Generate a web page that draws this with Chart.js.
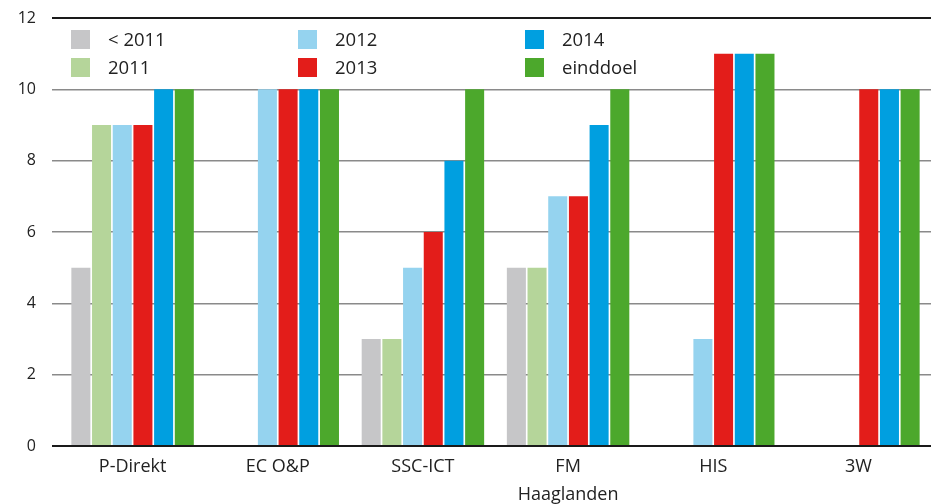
<!DOCTYPE html>
<html>
<head>
<meta charset="utf-8">
<script src="https://cdn.jsdelivr.net/npm/chart.js@4/dist/chart.umd.min.js"></script>
<style>
html,body{margin:0;padding:0;background:#fff;}
#wrap{width:931px;height:504px;position:relative;}
</style>
</head>
<body>
<div id="wrap"><canvas id="c" width="931" height="504"></canvas></div>
<script>
const categories = ['P-Direkt', 'EC O&P', 'SSC-ICT', ['FM', 'Haaglanden'], 'HIS', '3W'];
const seriesNames = ['< 2011', '2011', '2012', '2013', '2014', 'einddoel'];
const before2011 = [5, null, 3, 5, null, null];
const y2011 = [9, null, 3, 5, null, null];
const y2012 = [9, 10, 5, 7, 3, null];
const y2013 = [9, 10, 6, 7, 11, 10];
const y2014 = [10, 10, 8, 9, 11, 10];
const einddoel = [10, 10, 10, 10, 11, 10];
const yTicks = [0, 2, 4, 6, 8, 10, 12];

const colors = ['#c6c6c8', '#b5d59a', '#95d3ef', '#e31d1a', '#009fe0', '#4ca82c'];
const seriesValues = [before2011, y2011, y2012, y2013, y2014, einddoel];

const FONT = '"Open Sans", sans-serif';
const TEXT = '#222222';

const legendPlugin = {
  id: 'gridLegend',
  afterDraw(chart) {
    const ctx = chart.ctx;
    const colX = [71, 298, 525];
    const rowY = [30, 58];
    const box = 19;
    ctx.save();
    ctx.font = '18.5px ' + FONT;
    ctx.textBaseline = 'middle';
    ctx.textAlign = 'left';
    chart.data.datasets.forEach((ds, i) => {
      const col = Math.floor(i / 2), row = i % 2;
      const x = colX[col], y = rowY[row];
      ctx.fillStyle = ds.backgroundColor;
      ctx.fillRect(x, y, box, box);
      ctx.fillStyle = TEXT;
      ctx.fillText(ds.label, x + 37, y + box / 2 + 1);
    });
    ctx.restore();
  }
};

new Chart(document.getElementById('c'), {
  type: 'bar',
  data: {
    labels: categories,
    datasets: seriesNames.map((n, i) => ({
      label: n,
      data: seriesValues[i],
      backgroundColor: colors[i],
      borderWidth: 0,
      barPercentage: 0.92,
      categoryPercentage: 0.855
    }))
  },
  options: {
    responsive: false,
    animation: false,
    layout: { padding: { top: 18, right: 0, left: 0, bottom: 0 } },
    plugins: { legend: { display: false }, tooltip: { enabled: false } },
    scales: {
      x: {
        afterFit(scale) { scale.height = 58; },
        grid: { display: false, drawTicks: false },
        border: { display: false },
        ticks: { color: TEXT, font: { family: FONT, size: 18, lineHeight: 1.55 }, padding: 7, maxRotation: 0, autoSkip: false }
      },
      y: {
        min: 0, max: 12,
        afterBuildTicks(scale) { scale.ticks = yTicks.map(v => ({ value: v })); },
        afterFit(scale) { scale.width = 60; scale.paddingTop = 0; scale.paddingBottom = 0; },
        grid: {
          color: (c) => (c.tick && (c.tick.value === 0 || c.tick.value === 12)) ? '#1a1a1a' : '#8a8a8a',
          lineWidth: (c) => (c.tick && (c.tick.value === 0 || c.tick.value === 12)) ? 2 : 1.5,
          tickLength: 8,
          drawTicks: true
        },
        border: { display: false },
        ticks: { color: TEXT, font: { family: FONT, size: 16 }, padding: 16 }
      }
    }
  },
  plugins: [legendPlugin]
});
</script>
</body>
</html>
